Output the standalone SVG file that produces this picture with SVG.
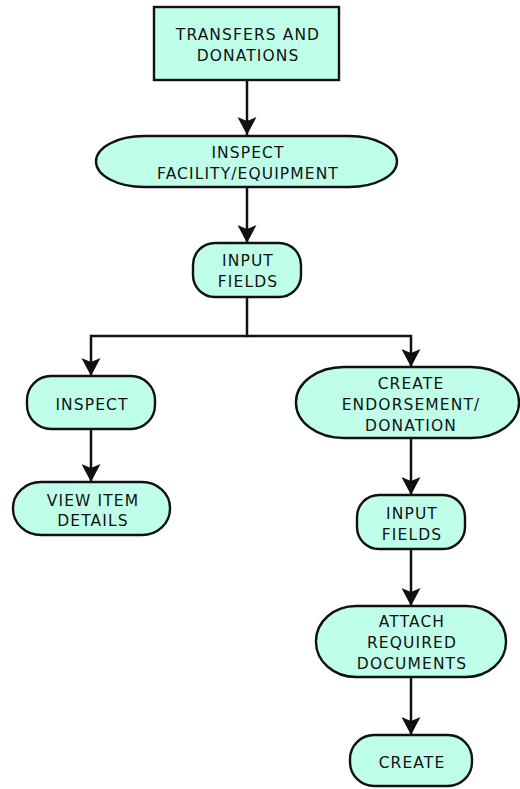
<svg xmlns="http://www.w3.org/2000/svg" width="520" height="789" viewBox="0 0 520 789">
<style>
.box{fill:#bfffe9;stroke:#111;stroke-width:2.4}
.t{font-family:"DejaVu Sans",sans-serif;font-size:15.5px;letter-spacing:1.1px;fill:#111;text-anchor:middle}
.c{fill:none;stroke:#111;stroke-width:2.5}
</style>
<defs>
<marker id="ah" viewBox="0 0 18 19" refX="18" refY="9.5" markerWidth="18" markerHeight="19" markerUnits="userSpaceOnUse" orient="auto">
<path d="M0,0 L18,9.5 L0,19 L4,9.5 z" fill="#111"/>
</marker>
</defs>
<rect width="520" height="789" fill="#fff"/>
<g id="connectors">
<path class="c" d="M247,80 V135" marker-end="url(#ah)"/>
<path class="c" d="M247,187 V243" marker-end="url(#ah)"/>
<path class="c" d="M247,297 V336 H91 V376" marker-end="url(#ah)"/>
<path class="c" d="M247,336 H411 V367" marker-end="url(#ah)"/>
<path class="c" d="M91,429 V482" marker-end="url(#ah)"/>
<path class="c" d="M411,438 V495" marker-end="url(#ah)"/>
<path class="c" d="M411,549 V606" marker-end="url(#ah)"/>
<path class="c" d="M411,677 V735" marker-end="url(#ah)"/>
</g>
<g id="n_transfers">
<rect class="box" x="154" y="7" width="185" height="73"/>
<text class="t" x="248" y="39.5">TRANSFERS AND</text>
<text class="t" x="248" y="60.5">DONATIONS</text>
</g>
<g id="n_inspect_facility">
<rect class="box" x="96" y="136" width="301" height="51" rx="48" ry="25.5"/>
<text class="t" x="248" y="157.5">INSPECT</text>
<text class="t" x="248" y="178.5">FACILITY/EQUIPMENT</text>
</g>
<g id="n_input1">
<rect class="box" x="193" y="243" width="108" height="54" rx="22" ry="22"/>
<text class="t" x="248" y="265.5">INPUT</text>
<text class="t" x="248" y="286.5">FIELDS</text>
</g>
<g id="n_inspect">
<rect class="box" x="27" y="376" width="128" height="53" rx="24" ry="24"/>
<text class="t" x="92" y="410">INSPECT</text>
</g>
<g id="n_view">
<rect class="box" x="13" y="482" width="157" height="53" rx="28" ry="26"/>
<text class="t" x="93" y="505.5">VIEW ITEM</text>
<text class="t" x="93" y="526">DETAILS</text>
</g>
<g id="n_create_endorsement">
<rect class="box" x="296" y="367" width="223" height="71" rx="48" ry="35"/>
<text class="t" x="411" y="388.5">CREATE</text>
<text class="t" x="411" y="409.5">ENDORSEMENT/</text>
<text class="t" x="411" y="430.5">DONATION</text>
</g>
<g id="n_input2">
<rect class="box" x="357" y="495" width="108" height="54" rx="22" ry="22"/>
<text class="t" x="412" y="518.5">INPUT</text>
<text class="t" x="412" y="539.5">FIELDS</text>
</g>
<g id="n_attach">
<rect class="box" x="316" y="606" width="190" height="71" rx="40" ry="35"/>
<text class="t" x="412" y="626.5">ATTACH</text>
<text class="t" x="412" y="647.5">REQUIRED</text>
<text class="t" x="412" y="668.5">DOCUMENTS</text>
</g>
<g id="n_create">
<rect class="box" x="350" y="735" width="122" height="51" rx="24" ry="24"/>
<text class="t" x="412" y="768">CREATE</text>
</g>
</svg>
